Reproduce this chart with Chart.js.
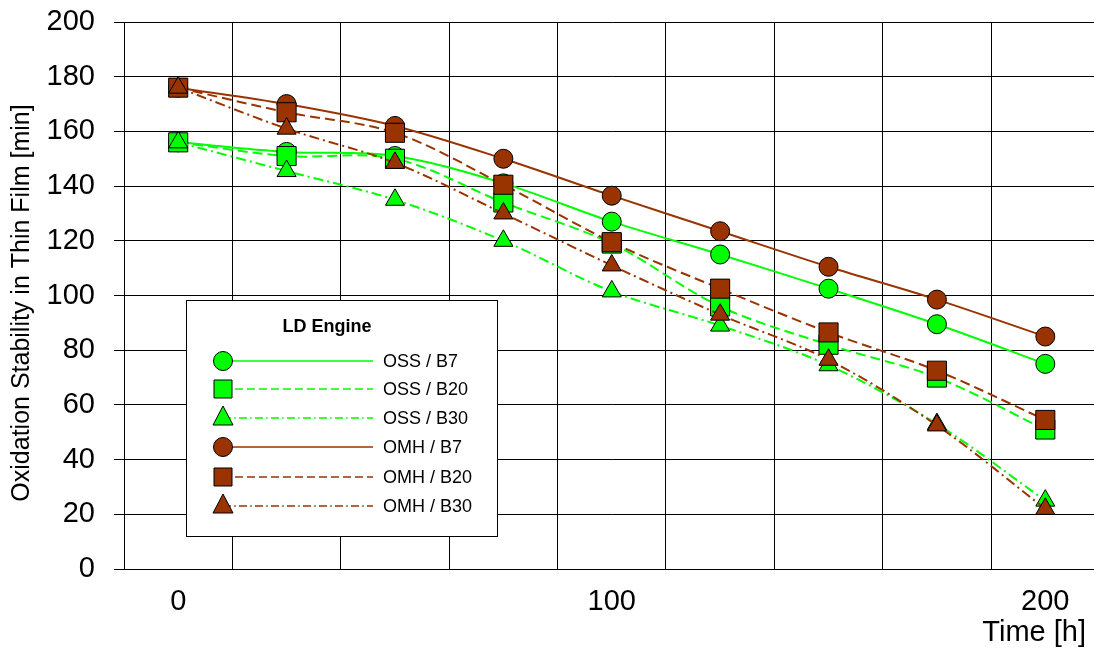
<!DOCTYPE html>
<html>
<head>
<meta charset="utf-8">
<title>Oxidation Stability</title>
<script src="https://cdn.jsdelivr.net/npm/chart.js@4"></script>
<style>
    html, body{ margin:0; padding:0; overflow:hidden; background:#fff; }
    .wrap{ width:1114px; height:654px; }
</style>
</head>
<body>
<div class="wrap"><canvas id="myChart" width="1114" height="654"></canvas></div>
<script>

const hours = [0, 25, 50, 75, 100, 125, 150, 175, 200]

const ossB7  = [156, 152.5, 151, 141, 127, 115, 102.5, 89.5, 75]
const ossB20 = [156, 151, 150, 134, 119, 96, 82, 70, 51]
const ossB30 = [156, 145.5, 135, 120, 101.5, 89, 74.5, 53, 25]
const omhB7  = [176, 170, 162, 150, 136.5, 123.5, 110.5, 98.5, 85]
const omhB20 = [176, 167, 159.5, 140.5, 119.5, 102.5, 86.5, 72.5, 54.5]
const omhB30 = [176, 161, 148.5, 130, 111, 93, 76.5, 52.5, 22]

const seriesNames = ['OSS / B7', 'OSS / B20', 'OSS / B30', 'OMH / B7', 'OMH / B20', 'OMH / B30']
const yTicks = [0, 20, 40, 60, 80, 100, 120, 140, 160, 180, 200]
const xLabels = [0, 100, 200]

const GREEN = '#00ff00'
const BROWN = '#993300'
const FONT = '"Liberation Sans", Arial, sans-serif'

const styles = [
    {color: GREEN, shape: 'circle',   r: 9.5,  dash: []},
    {color: GREEN, shape: 'rect',     r: 13.5, dash: [10, 5]},
    {color: GREEN, shape: 'triangle', r: 11,   dash: [10, 4, 2, 4]},
    {color: BROWN, shape: 'circle',   r: 9.5,  dash: []},
    {color: BROWN, shape: 'rect',     r: 13.5, dash: [10, 5]},
    {color: BROWN, shape: 'triangle', r: 11,   dash: [10, 4, 2, 4]}
]

const allValues = [ossB7, ossB20, ossB30, omhB7, omhB20, omhB30]

function makeSet(i){
    const st = styles[i]
    return {
        label: seriesNames[i],
        data: hours.map((h, k) => ({x: h, y: allValues[i][k]})),
        borderColor: st.color,
        backgroundColor: st.color,
        borderWidth: 2,
        borderDash: st.dash,
        tension: 0.33,
        pointStyle: st.shape,
        pointRadius: st.r,
        pointHoverRadius: st.r,
        pointBackgroundColor: st.color,
        pointBorderColor: '#000',
        pointBorderWidth: 1,
        order: 6 - i
    }
}

// little marker for the legend box
function marker(c, shape, x, y, color){
    c.save()
    c.setLineDash([])
    c.fillStyle = color
    c.strokeStyle = '#000'
    c.lineWidth = 1
    c.beginPath()
    if(shape == 'circle'){
        c.arc(x, y, 9.5, 0, Math.PI*2)
    }else if(shape == 'rect'){
        c.rect(x-9, y-9, 18, 18)
    }else{
        c.moveTo(x, y-12)
        c.lineTo(x+10, y+7)
        c.lineTo(x-10, y+7)
        c.closePath()
    }
    c.fill()
    c.stroke()
    c.restore()
}

const boxLegend = {
    id: 'boxLegend',
    afterDraw(chart){
        const c = chart.ctx
        c.save()
        c.fillStyle = '#fff'
        c.fillRect(186, 300, 311, 236)
        c.strokeStyle = '#000'
        c.lineWidth = 1
        c.strokeRect(186.5, 300.5, 311, 236)

        c.fillStyle = '#000'
        c.font = 'bold 18px ' + FONT
        c.textAlign = 'center'
        c.textBaseline = 'middle'
        c.fillText('LD Engine', 327, 327)

        const rows = [361, 389, 418, 447, 477, 506]
        c.font = '18px ' + FONT
        c.textAlign = 'left'
        for(let i=0; i<rows.length; i++){
            const st = styles[i]
            c.strokeStyle = st.color
            c.lineWidth = 1.3
            c.setLineDash(st.dash.map(d => d*0.8))
            c.beginPath()
            c.moveTo(223, rows[i])
            c.lineTo(373, rows[i])
            c.stroke()
            marker(c, st.shape, 223, rows[i], st.color)
            c.fillStyle = '#000'
            c.fillText(seriesNames[i], 383, rows[i] + 1)
        }

        c.font = '29px ' + FONT
        c.textAlign = 'right'
        c.fillText('Time [h]', 1086, 633)

        c.translate(22, 303)
        c.rotate(-Math.PI/2)
        c.font = '25px ' + FONT
        c.textAlign = 'center'
        c.fillText('Oxidation Stability in Thin Film [min]', 0, 0)
        c.restore()
    }
}

const ctx = document.getElementById('myChart')

const chart = new Chart(ctx, {
    type: 'line',
    data: {
        datasets: allValues.map((v, i) => makeSet(i))
    },
    options: {
        responsive: false,
        animation: false,
        layout: {padding: {top: 22, right: 6, left: 0, bottom: 0}},
        plugins: {
            legend: {display: false},
            tooltip: {enabled: false}
        },
        scales: {
            x: {
                type: 'linear',
                min: -12.5,
                max: 212.5,
                afterBuildTicks: (scale) => {
                    const t = []
                    for(let v=-12.5; v<=212.5; v+=12.5) t.push({value: v})
                    scale.ticks = t
                },
                afterFit: (scale) => {
                    scale.height = 85
                    scale.paddingLeft = 0
                    scale.paddingRight = 0
                },
                ticks: {
                    autoSkip: false,
                    maxRotation: 0,
                    padding: 16,
                    color: '#000',
                    font: {family: FONT, size: 29},
                    callback: (v) => xLabels.includes(v) ? String(v) : ''
                },
                grid: {
                    drawTicks: false,
                    lineWidth: 1,
                    color: (c) => ((c.tick.value + 12.5) % 25 === 0) ? '#000' : 'rgba(0,0,0,0)'
                },
                border: {color: '#000', width: 1}
            },
            y: {
                min: 0,
                max: 200,
                afterBuildTicks: (scale) => { scale.ticks = yTicks.map(v => ({value: v})) },
                afterFit: (scale) => {
                    scale.width = 124
                    scale.paddingTop = 0
                    scale.paddingBottom = 0
                },
                ticks: {
                    padding: 19,
                    color: '#000',
                    font: {family: FONT, size: 29}
                },
                grid: {
                    color: '#000',
                    lineWidth: 1,
                    tickLength: 10,
                    tickColor: '#000'
                },
                border: {color: '#000', width: 1}
            }
        }
    },
    plugins: [boxLegend]
})

</script>
</body>
</html>
